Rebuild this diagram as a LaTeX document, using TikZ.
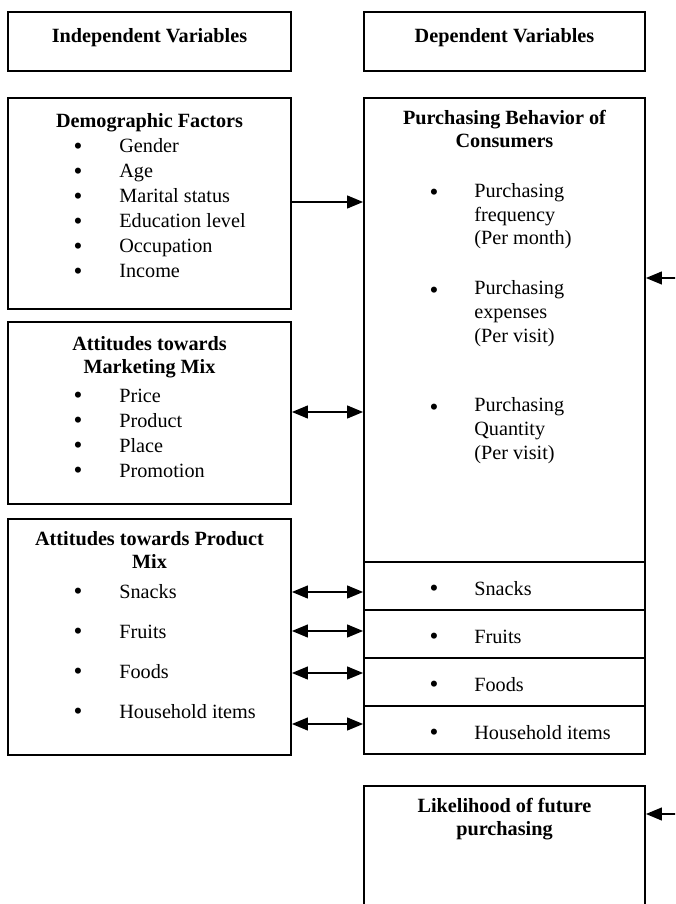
\documentclass[tikz,border=0pt]{standalone}
\usepackage{fontspec}
\setmainfont{Liberation Serif}
\usetikzlibrary{positioning, arrows.meta}
\newcommand{\pxu}{0.5935pt}

\begin{document}
\begin{tikzpicture}[
    x=\pxu, y=-\pxu,
    box/.style={draw, line width=1pt, inner sep=0pt},
    title/.style={
        anchor=north,
        align=center,
        inner sep=0pt,
        font=\fontsize{12}{13.4}\selectfont\bfseries,
        execute at begin node={\rule{0pt}{10pt}}
    },
    item/.style={anchor=base west, inner sep=0pt, font=\fontsize{12}{14}\selectfont},
    itemblock/.style={
        anchor=north west,
        align=left,
        inner sep=0pt,
        font=\fontsize{12}{14.24}\selectfont,
        execute at begin node={\rule{0pt}{10pt}}
    },
    dot/.style={anchor=base, inner sep=0pt, yshift=-0.6pt, font=\fontsize{15}{15}\selectfont},
    arrow/.style={-{Triangle[length=9.5pt, width=7.5pt]}, line width=1.3pt},
    dblarrow/.style={{Triangle[length=9.5pt, width=7.5pt]}-{Triangle[length=9.5pt, width=7.5pt]}, line width=1.3pt}
]
\useasboundingbox (0,0) rectangle (675,904);
\clip (0,0) rectangle (675,904);

% --- headers ---
\node[box, minimum width=283*\pxu, minimum height=59*\pxu] (indep) at (149.5,41.5) {};
\node[box, minimum width=281*\pxu, minimum height=59*\pxu] (dep) at (504.5,41.5) {};
\node[title] (indept) at (149.5,25.15) {Independent Variables};
\node[title] (dept) at (504.5,25.15) {Dependent Variables};

% --- independent side ---
\node[box, minimum width=283*\pxu, minimum height=211*\pxu] (demo) at (149.5,203.5) {};
\node[box, minimum width=283*\pxu, minimum height=182*\pxu] (mmix) at (149.5,413) {};
\node[box, minimum width=283*\pxu, minimum height=236*\pxu] (pmix) at (149.5,637) {};

\node[title] (demot) at (149.5,110.15) {Demographic Factors};
\foreach \t [count=\i from 0] in {Gender, Age, Marital status, Education level, Occupation, Income} {
    \node[dot] (demob\i) at (78,153+25*\i) {•};
    \node[item] (demoi\i) at (119,153+25*\i) {\t};
}

\node[title] (mmixt) at (149.5,336.15) {Attitudes towards\\Marketing Mix};
\foreach \t [count=\i from 0] in {Price, Product, Place, Promotion} {
    \node[dot] (mmixb\i) at (78,402+25*\i) {•};
    \node[item] (mmixi\i) at (119,402+25*\i) {\t};
}

\node[title] (pmixt) at (149.5,531.15) {Attitudes towards Product\\Mix};
\foreach \t [count=\i from 0] in {Snacks, Fruits, Foods, Household items} {
    \node[dot] (pmixb\i) at (78,598+40*\i) {•};
    \node[item] (pmixi\i) at (119,598+40*\i) {\t};
}

% --- dependent side ---
\node[box, minimum width=281*\pxu, minimum height=464*\pxu] (purch) at (504.5,330) {};
\node[title] (purcht) at (504.5,110.15) {Purchasing Behavior of\\Consumers};

\node[dot] (freqb) at (434,199.5) {•};
\node[itemblock] (freq) at (474,182.65) {Purchasing\\frequency\\(Per month)};
\node[dot] (expb) at (434,297) {•};
\node[itemblock] (exp) at (474,280.15) {Purchasing\\expenses\\(Per visit)};
\node[dot] (qtyb) at (434,414) {•};
\node[itemblock] (qty) at (474,397.15) {Purchasing\\Quantity\\(Per visit)};

\foreach \t/\n [count=\i from 0] in {Snacks/snacks, Fruits/fruits, Foods/foods, Household items/house} {
    \node[box, minimum width=281*\pxu, minimum height=48*\pxu] (\n) at (504.5,586+48*\i) {};
    \node[dot] (\n b) at (434,595+48*\i) {•};
    \node[item] (\n t) at (474,595+48*\i) {\t};
}

\node[box, minimum width=281*\pxu, minimum height=160*\pxu] (likely) at (504.5,866) {};
\node[title] (likelyt) at (504.5,798.15) {Likelihood of future\\purchasing};

% --- links ---
\coordinate (l1) at (0,202);
\coordinate (l2) at (0,412);
\draw[arrow] (demo.east |- l1) -- (purch.west |- l1);
\draw[dblarrow] (mmix.east |- l2) -- (purch.west |- l2);

\coordinate (r1) at (0,592);
\coordinate (r2) at (0,631);
\coordinate (r3) at (0,673);
\coordinate (r4) at (0,724);
\draw[dblarrow] (pmix.east |- r1) -- (snacks.west |- r1);
\draw[dblarrow] (pmix.east |- r2) -- (fruits.west |- r2);
\draw[dblarrow] (pmix.east |- r3) -- (foods.west |- r3);
\draw[dblarrow] (pmix.east |- r4) -- (house.west |- r4);

% --- feedback from the right edge ---
\coordinate (fb1) at (700,278);
\coordinate (fb2) at (700,814);
\draw[arrow] (fb1) -- (purch.east |- fb1);
\draw[arrow] (fb2) -- (likely.east |- fb2);

\end{tikzpicture}
\end{document}
